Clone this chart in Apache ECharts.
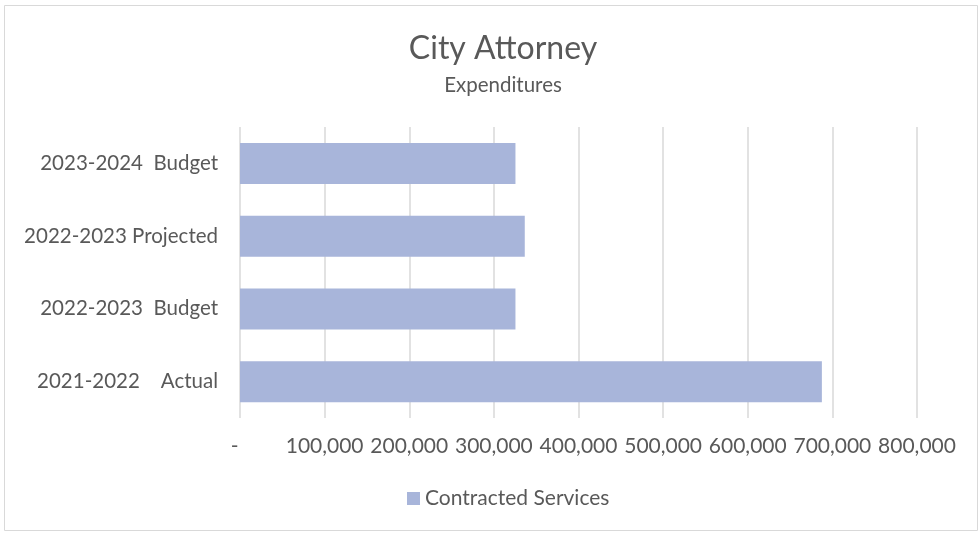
<!DOCTYPE html>
<html>
<head>
<meta charset="utf-8">
<script src="https://cdn.jsdelivr.net/npm/echarts@6/dist/echarts.min.js"></script>
<style>
  html, body { margin: 0; padding: 0; background: #fff; }
  #chart { width: 980px; height: 535px; }
</style>
</head>
<body>
<div id="chart"></div>
<script>
const categories = ['2021-2022    Actual', '2022-2023  Budget', '2022-2023 Projected', '2023-2024  Budget']
const contractedServices = [687600, 325500, 336500, 325500]
const seriesName = 'Contracted Services'

const textColor = '#595959'
const font = 'Lato, "Open Sans", sans-serif'

const chart = echarts.init(document.getElementById('chart'))
const option = {
  animation: false,
  title: {
    text: 'City Attorney',
    subtext: 'Expenditures',
    left: 498,
    textAlign: 'center',
    top: 28,
    itemGap: 10,
    textStyle: { color: textColor, fontSize: 32, fontWeight: 'normal', fontFamily: font },
    subtextStyle: { color: textColor, fontSize: 20.5, fontFamily: font }
  },
  graphic: [{
    type: 'rect',
    shape: { x: 4.5, y: 5.5, width: 973, height: 525 },
    style: { fill: 'none', stroke: '#d9d9d9', lineWidth: 1 },
    silent: true
  }],
  legend: {
    top: 483,
    left: 402,
    icon: 'rect',
    itemWidth: 13,
    itemHeight: 13,
    itemGap: 6,
    textStyle: { color: textColor, fontSize: 21, fontFamily: font },
    data: [seriesName]
  },
  grid: { left: 240, right: 63, top: 127, bottom: 117, containLabel: false },
  xAxis: {
    type: 'value',
    min: 0,
    max: 800000,
    interval: 100000,
    axisLine: { show: false },
    axisTick: { show: false },
    splitLine: { show: true, lineStyle: { color: '#d9d9d9', width: 1.5 } },
    axisLabel: {
      color: textColor,
      fontSize: 21,
      fontFamily: font,
      margin: 18,
      formatter: v => v === 0 ? '-  ' : v.toLocaleString('en-US')
    }
  },
  yAxis: {
    type: 'category',
    data: categories,
    axisLine: { show: false },
    axisTick: { show: false },
    axisLabel: { color: textColor, fontSize: 20.5, fontFamily: font, margin: 22 }
  },
  series: [{
    name: seriesName,
    type: 'bar',
    data: contractedServices,
    barWidth: 41,
    itemStyle: { color: '#a8b5da' }
  }]
}
chart.setOption(option)
</script>
</body>
</html>
